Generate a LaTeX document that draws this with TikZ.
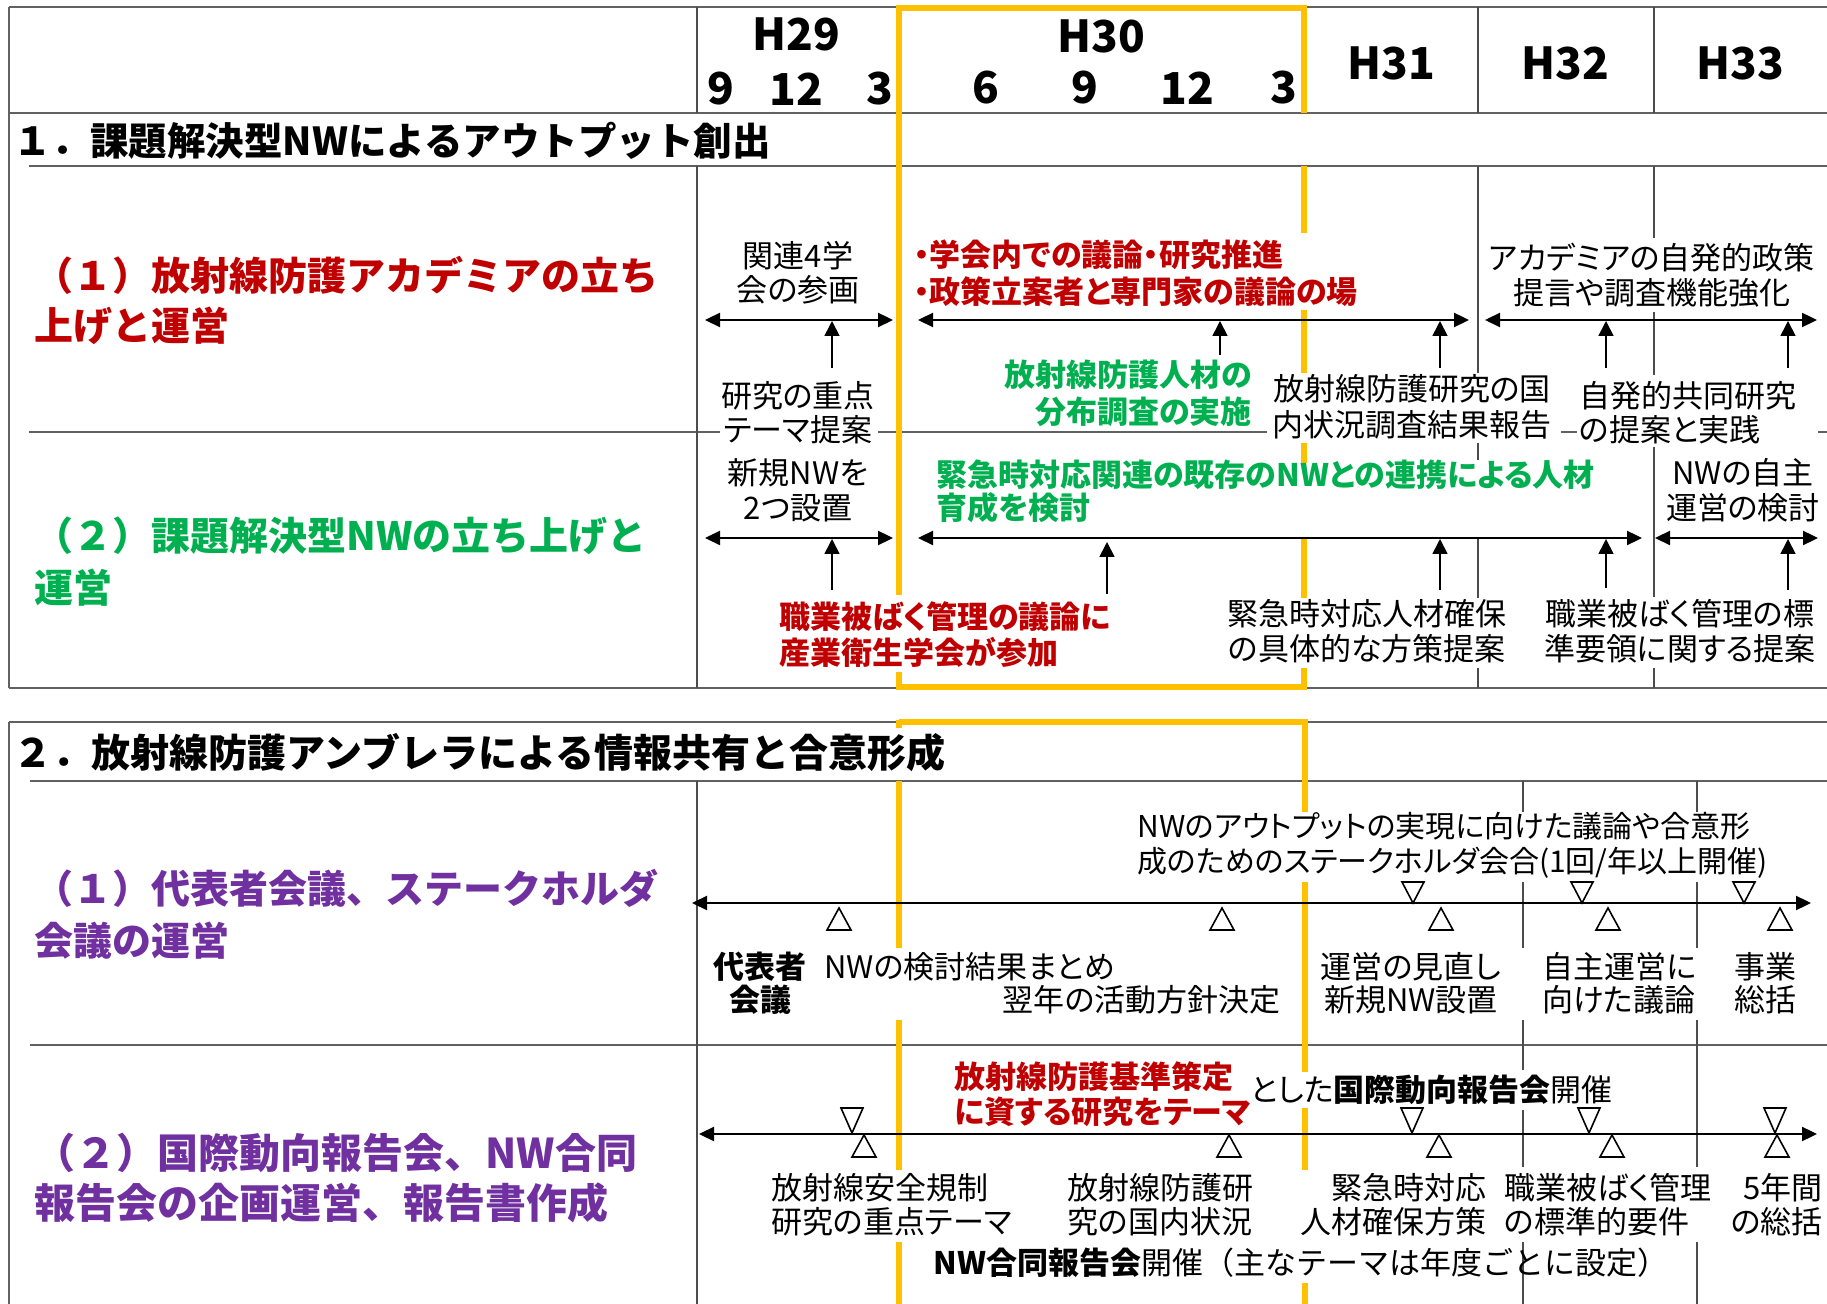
\documentclass[tikz,border=0pt]{standalone}
\usepackage{fontspec}
\setmainfont{Noto Sans CJK JP}
\newfontfamily\pf{Noto Sans CJK JP}[CharacterWidth=AlternateProportional]
\usetikzlibrary{arrows.meta}
\definecolor{ored}{HTML}{C00000}
\definecolor{ogreen}{HTML}{00B050}
\definecolor{opurple}{HTML}{7030A0}
\definecolor{oorange}{HTML}{FFC000}
\tikzset{
  gridline/.style={draw=black!62, line width=1pt},
  colline/.style={draw=black!70, line width=0.6pt},
  orng/.style={draw=oorange, line width=3.25pt},
  darr/.style={draw=black, line width=1.15pt, {Triangle[length=7.5pt,width=7pt]}-{Triangle[length=7.5pt,width=7pt]}},
  uarr/.style={draw=black, line width=0.85pt, -{Triangle[length=7.5pt,width=7.5pt]}},
  tri/.style={draw=black, line width=0.8pt, fill=white, line join=miter},
  bt/.style={font=\pf\fontsize{15.5}{#1}\selectfont, inner sep=0pt, align=center},
  bt/.default=17.5,
  bb/.style={font=\pf\bfseries\fontsize{15.5}{#1}\selectfont, inner sep=0pt, align=center},
  bb/.default=16.5,
  rb/.style={font=\pf\bfseries\fontsize{15.5}{#1}\selectfont, text=ored, inner sep=0pt, align=left},
  rb/.default=18.5,
  gb/.style={font=\pf\bfseries\fontsize{15.5}{#1}\selectfont, text=ogreen, inner sep=0pt},
  gb/.default=18.5,
  lbl/.style={font=\bfseries\fontsize{19.5}{#1}\selectfont, anchor=west, align=left, inner sep=0pt},
  lbl/.default=25,
  ttl/.style={font=\bfseries\fontsize{#1}{23}\selectfont, anchor=west, inner sep=0pt},
  ttl/.default=19.25,
  hdr/.style={font=\bfseries\fontsize{22}{26}\selectfont, inner sep=0pt},
}
\begin{document}
\begin{tikzpicture}[x=0.5pt,y=-0.5pt]
\fill[white] (0,0) rectangle (1827,1304);
\useasboundingbox (0,0) rectangle (1827,1304);

% ---------- Section 1 table ----------
\draw[gridline] (9,7) -- (1827,7);
\draw[gridline] (9,7) -- (9,688);
\draw[gridline] (9,113) -- (1827,113);
\draw[gridline] (29,166) -- (1827,166);
\draw[gridline] (9,688) -- (1827,688);
\foreach \a/\b in {29/720, 878/1267, 1561/1577, 1818/1827}
  \draw[gridline] (\a,432) -- (\b,432);
\foreach \x/\a/\b in {697/7/113, 697/166/688,
    1478/7/113, 1478/166/373, 1478/443/460, 1478/538/598, 1478/668/688,
    1654/7/113, 1654/166/238, 1654/312/375, 1654/447/597, 1654/668/688}
  \draw[colline] (\x,\a) -- (\x,\b);
% orange frame section 1
\draw[orng] (899,595) -- (899,8) -- (1304,8) -- (1304,113);
\draw[orng] (899,672) -- (899,687) -- (1304,687) -- (1304,668);
\foreach \a/\b in {166/233, 310/373, 443/463, 538/598}
  \draw[orng] (1304,\a) -- (1304,\b);

% ---------- Section 2 table ----------
\draw[gridline] (9,722) -- (1827,722);
\draw[gridline] (9,722) -- (9,1304);
\draw[gridline] (30,781) -- (1827,781);
\draw[gridline] (30,1045) -- (1827,1045);
\foreach \x/\a/\b in {697/781/1304,
    1523/781/812, 1523/882/948, 1523/1020/1070, 1523/1110/1167, 1523/1242/1304,
    1697/781/812, 1697/882/948, 1697/1020/1167, 1697/1242/1304}
  \draw[colline] (\x,\a) -- (\x,\b);
\draw[orng] (899,722) -- (1305,722) -- (1305,812);
\draw[orng] (899,720.4) -- (899,728);
\foreach \x/\a/\b in {899/781/948, 899/1020/1170, 899/1242/1304,
    1305/882/1072, 1305/1108/1170, 1305/1283/1304}
  \draw[orng] (\x,\a) -- (\x,\b);

% ---------- Header ----------
\node[hdr] (h29) at (796,34) {H29};
\node[hdr] (m9a) at (721,89) {9};
\node[hdr] (m12a) at (796,89) {12};
\node[hdr] (m3a) at (880,89) {3};
\node[hdr] (h30) at (1101,36) {H30};
\node[hdr] (m6b) at (986,88) {6};
\node[hdr] (m9b) at (1085,88) {9};
\node[hdr] (m12b) at (1187,88) {12};
\node[hdr] (m3b) at (1284,88) {3};
\node[hdr] (h31) at (1391,63) {H31};
\node[hdr] (h32) at (1565,63) {H32};
\node[hdr] (h33) at (1740,63) {H33};

% ---------- Titles and row labels ----------
\node[ttl] (t1) at (13,141) {１．課題解決型NWによるアウトプット創出};
\node[ttl=19.5] (t2) at (13,753) {２．放射線防護アンブレラによる情報共有と合意形成};
\node[lbl, text=ored] (l11) at (34,300) {（１）放射線防護アカデミアの立ち\\上げと運営};
\node[lbl=26, text=ogreen] (l12) at (34,562) {（２）課題解決型NWの立ち上げと\\運営};
\node[lbl=26, text=opurple] (l21) at (34,914) {（１）代表者会議、ステークホルダ\\会議の運営};
\node[lbl, font=\bfseries\fontsize{20.5}{25}\selectfont, text=opurple] (l22) at (34,1178) {（２）国際動向報告会、NW合同\\報告会の企画運営、報告書作成};

% ---------- Section 1 texts ----------
\node[bt=17] (k1) at (798,273) {関連4学\\会の参画};
\node[bt=17] (k2) at (798,413) {研究の重点\\テーマ提案};
\node[rb, anchor=west] (k3) at (914,273.5) {・学会内での議論・研究推進\\・政策立案者と専門家の議論の場};
\node[gb, anchor=east, align=right] (k4) at (1252,393.5) {放射線防護人材の\\分布調査の実施};
\node[bt=18] (k5) at (1412,407) {放射線防護研究の国\\内状況調査結果報告};
\node[bt] (k6) at (1652,275.5) {アカデミアの自発的政策\\提言や調査機能強化};
\node[bt=17, anchor=west, align=left] (k7) at (1579,413) {自発的共同研究\\の提案と実践};
\node[bt] (k8) at (798,490.5) {新規NWを\\2つ設置};
\node[gb=16.5, anchor=west, align=left] (k9) at (936,491.5) {緊急時対応関連の既存のNWとの連携による人材\\育成を検討};
\node[bt] (k10) at (1743,490.5) {NWの自主\\運営の検討};
\node[rb=18, anchor=west] (k11) at (779,635) {職業被ばく管理の議論に\\産業衛生学会が参加};
\node[bt] (k12) at (1367,631.5) {緊急時対応人材確保\\の具体的な方策提案};
\node[bt] (k13) at (1680,631.5) {職業被ばく管理の標\\準要領に関する提案};

% ---------- Section 2 texts ----------
\node[bt, font=\pf\fontsize{15}{17.5}\selectfont, anchor=west, align=left] (s1) at (1137,845.5) {NWのアウトプットの実現に向けた議論や合意形\\成のためのステークホルダ会合(1回/年以上開催)};
\node[bb] (s2) at (760,983.5) {代表者\\会議};
\node[bt, anchor=west] (s3) at (824,967) {NWの検討結果まとめ};
\node[bt, anchor=east] (s4) at (1281,1000) {翌年の活動方針決定};
\node[bt=16.5] (s5) at (1411,983.5) {運営の見直し\\新規NW設置};
\node[bt=16.5, anchor=west, align=left] (s6) at (1542,983.5) {自主運営に\\向けた議論};
\node[bt=16.5, anchor=west, align=left] (s7) at (1734,983.5) {事業\\総括};

\node[rb=17.5, anchor=west] (r1) at (954,1094.5) {放射線防護基準策定\\に資する研究をテーマ};
\node[bt, anchor=west] (r2) at (1250,1090) {とした\textbf{国際動向報告会}開催};
\node[bt=17, anchor=west, align=left] (r3) at (771,1205) {放射線安全規制\\研究の重点テーマ};
\node[bt=17, anchor=west, align=left] (r4) at (1067,1205) {放射線防護研\\究の国内状況};
\node[bt=17, anchor=east, align=right] (r5) at (1487,1205) {緊急時対応\\人材確保方策};
\node[bt=17, anchor=west, align=left] (r6) at (1504,1205) {職業被ばく管理\\の標準的要件};
\node[bt=17, anchor=east, align=right] (r7) at (1823,1205) {5年間\\の総括};
\node[bt, font=\fontsize{15.5}{17.5}\selectfont, anchor=west] (r8) at (933,1263) {\textbf{NW合同報告会}開催（主なテーマは年度ごとに設定）};

% ---------- Arrows ----------
\foreach \n/\xa/\xb/\y in {1/705/893/320, 2/918/1469/320, 3/1485/1817/320,
    4/705/893/538, 5/918/1642/538, 6/1655/1818/538,
    7/692/1811/903, 8/699/1817/1134} {
  \coordinate (da\n) at (\xa,\y);
  \coordinate (db\n) at (\xb,\y);
  \draw[darr] (da\n) -- (db\n);
}
\foreach \n/\x/\ya/\yb in {1/832/368/321, 2/1220/355/321, 3/1440/368/321,
    4/1606/368/321, 5/1788/368/321,
    6/832/590/539, 7/1107/594/542, 8/1440/590/539, 9/1606/588/539, 10/1788/590/539} {
  \coordinate (ua\n) at (\x,\ya);
  \coordinate (ub\n) at (\x,\yb);
  \draw[uarr] (ua\n) -- (ub\n);
}

% ---------- Triangles (milestones) ----------
\foreach \x in {839, 1222, 1441, 1608, 1780}
  \draw[tri] (\x-12,930) -- (\x+12,930) -- (\x,908) -- cycle;
\foreach \x in {1413, 1582, 1744}
  \draw[tri] (\x-11,882) -- (\x+11,882) -- (\x,903) -- cycle;
\foreach \x in {864, 1229, 1439, 1612, 1777}
  \draw[tri] (\x-12,1157) -- (\x+12,1157) -- (\x,1135) -- cycle;
\foreach \x in {852, 1412, 1589, 1775}
  \draw[tri] (\x-11,1108) -- (\x+11,1108) -- (\x,1133) -- cycle;
\end{tikzpicture}
\end{document}
